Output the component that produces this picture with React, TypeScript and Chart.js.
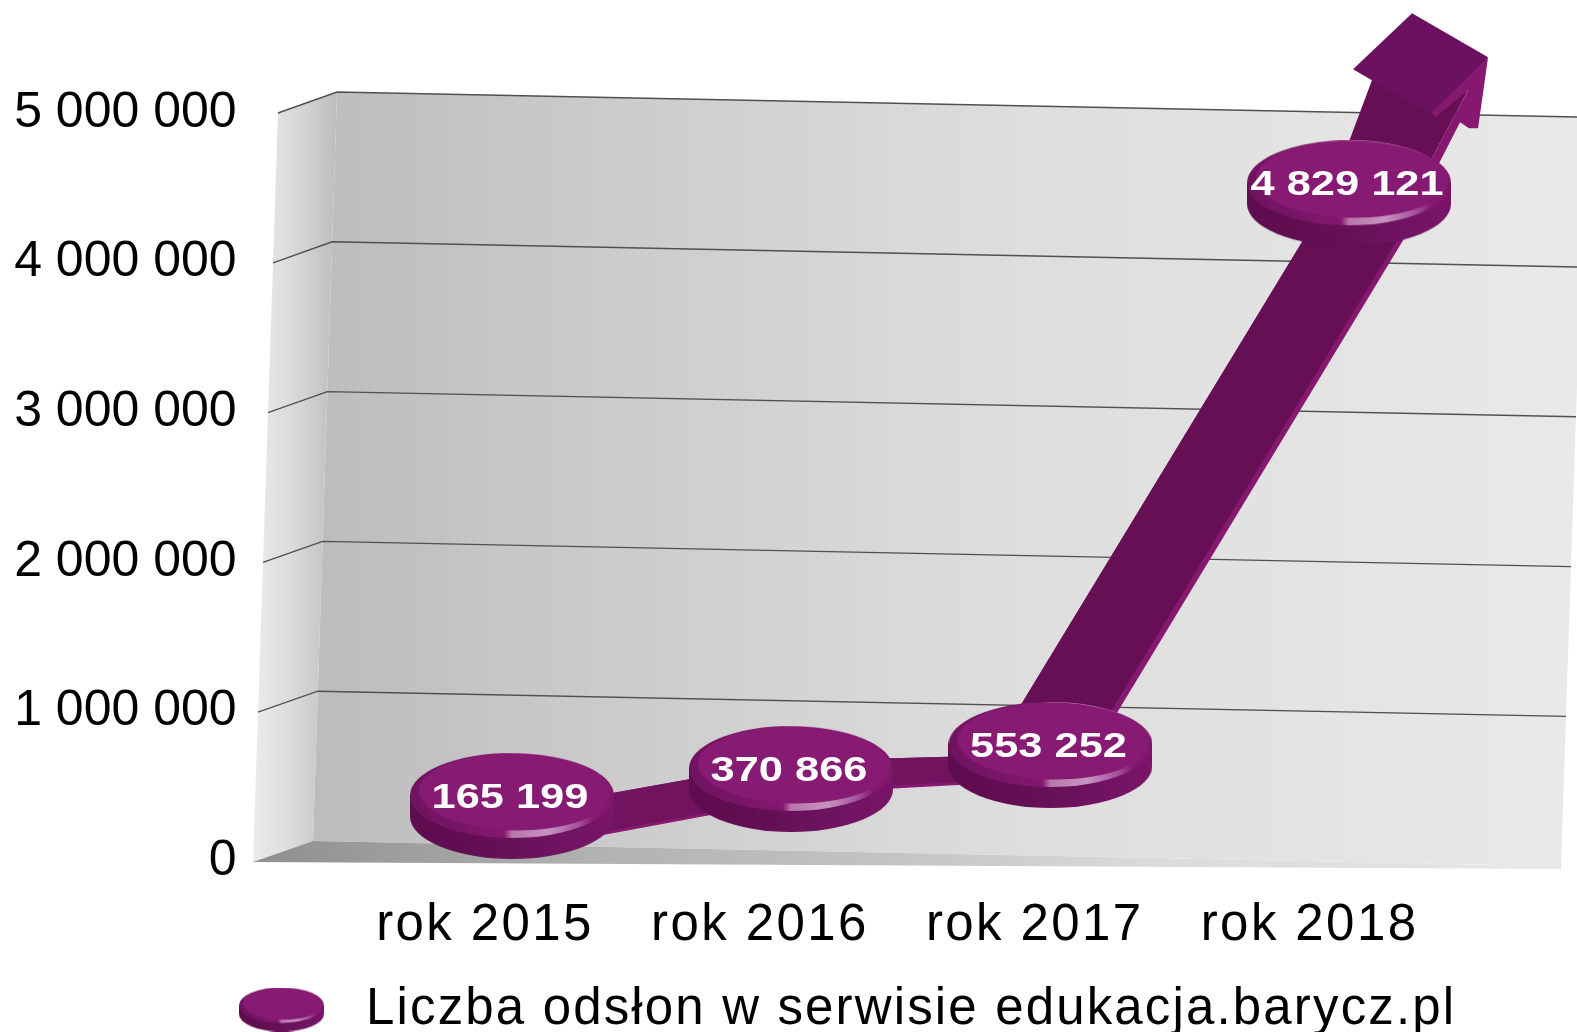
import React, { useEffect, useRef } from "react";
import { Chart, registerables } from "chart.js";

Chart.register(...registerables);

const categories = ["rok 2015", "rok 2016", "rok 2017", "rok 2018"];
const pageViews = [165199, 370866, 553252, 4829121];
// Apparent place of each point along the receding floor (in years).
const apparentYear = [2015, 2016, 2016.93, 2018];
const seriesName = "Liczba odsłon w serwisie edukacja.barycz.pl";
const axisMax = 5000000;
const axisStep = 1000000;

const FONT = "'Liberation Sans', Arial, sans-serif";
const fmt = (v: number) => String(v).replace(/\B(?=(\d{3})+(?!\d))/g, " ");

function makeDisc(w: number): HTMLCanvasElement {
  const s = w / 204;
  const h = Math.round(106 * s);
  const c = document.createElement("canvas");
  c.width = w;
  c.height = h;
  const g = c.getContext("2d")!;
  const rx = w / 2;
  const ry = 42.5 * s;
  const t = 21 * s;
  const side = g.createLinearGradient(0, 0, w, 0);
  side.addColorStop(0, "#5e0d4f");
  side.addColorStop(0.35, "#630f53");
  side.addColorStop(0.7, "#6e1360");
  side.addColorStop(1, "#7a1569");
  g.fillStyle = side;
  g.beginPath();
  g.ellipse(rx, ry + t, rx, ry, 0, 0, Math.PI * 2);
  g.fill();
  g.fillRect(0, ry, w, t);
  const rim = g.createLinearGradient(0, 0, w, 0);
  rim.addColorStop(0, "#6f1360");
  rim.addColorStop(0.3, "#7b1668");
  rim.addColorStop(0.46, "#85186f");
  rim.addColorStop(0.5, "#b877ab");
  rim.addColorStop(0.68, "#c894c0");
  rim.addColorStop(0.83, "#a2509a");
  rim.addColorStop(0.9, "#87196f");
  rim.addColorStop(1, "#7e1668");
  g.fillStyle = rim;
  g.beginPath();
  g.ellipse(rx, ry, rx, ry, 0, 0, Math.PI * 2);
  g.fill();
  g.fillStyle = "#871a72";
  g.beginPath();
  g.ellipse(rx + 3 * s, ry - 3.5 * s, rx - 6 * s, ry - 4 * s, 0.015, 0, Math.PI * 2);
  g.fill();
  return c;
}

const poly = (ctx: CanvasRenderingContext2D, color: string | CanvasGradient, pts: number[][]) => {
  ctx.fillStyle = color;
  ctx.beginPath();
  pts.forEach(([x, y], i) => (i ? ctx.lineTo(x, y) : ctx.moveTo(x, y)));
  ctx.closePath();
  ctx.fill();
};

const linearStops = (ctx: CanvasRenderingContext2D, x0: number, x1: number, stops: [number, string][]) => {
  const g = ctx.createLinearGradient(x0, 0, x1, 0);
  stops.forEach(([x, col]) => g.addColorStop((x - x0) / (x1 - x0), col));
  return g;
};

const wallPlugin = {
  id: "wall3d",
  beforeDraw(chart: any) {
    const { ctx } = chart;
    const y = chart.scales.y;
    // one-time wrapping: the lower texts of the reference are horizontally wider
    if (!chart.$wrapped) {
      chart.$wrapped = true;
      const x = chart.scales.x;
      const drawLabels = x.drawLabels.bind(x);
      x.drawLabels = (a: any) => {
        ctx.save();
        ctx.letterSpacing = "2.4px";
        drawLabels(a);
        ctx.restore();
      };
      const legend = chart.legend;
      const drawLegend = legend.draw.bind(legend);
      legend.draw = (a: any) => {
        ctx.save();
        ctx.translate(222.5 - legend.left, 13);
        ctx.letterSpacing = "2.15px";
        drawLegend(a);
        ctx.restore();
      };
    }
    const slope = 0.0202;
    const at = (v: number) => {
      const t = v / axisMax;
      const py = y.getPixelForValue(v);
      const back = { x: 313 + 24 * t, y: py - 20 - t };
      const rx = 1561 + 25 * t;
      return {
        front: { x: 253 + 25 * t, y: py + 1 - t },
        back,
        right: { x: rx, y: back.y + slope * (rx - back.x) },
      };
    };
    const lo = at(0);
    const hi = at(axisMax);
    ctx.save();
    poly(
      ctx,
      linearStops(ctx, 313, 1586, [
        [313, "#bcbcbc"],
        [600, "#cbcbcb"],
        [1000, "#dddddd"],
        [1586, "#e9e9e9"],
      ]),
      [[hi.back.x, hi.back.y], [hi.right.x, hi.right.y], [lo.right.x, lo.right.y], [lo.back.x, lo.back.y]]
    );
    poly(
      ctx,
      linearStops(ctx, 253, 337, [
        [253, "#ebebeb"],
        [290, "#dcdcdc"],
        [337, "#bdbdbd"],
      ]),
      [[hi.front.x, hi.front.y], [hi.back.x, hi.back.y], [lo.back.x, lo.back.y], [lo.front.x, lo.front.y]]
    );
    poly(
      ctx,
      linearStops(ctx, 253, 1561, [
        [253, "#8f8f8f"],
        [600, "#b2b2b2"],
        [900, "#c4c4c4"],
        [1150, "#dadada"],
        [1561, "#e8e8e8"],
      ]),
      [[lo.front.x, lo.front.y], [lo.back.x, lo.back.y], [lo.right.x, lo.right.y], [1561, 869]]
    );
    ctx.strokeStyle = "#505050";
    ctx.lineWidth = 1.4;
    y.ticks.forEach((tk: any) => {
      if (tk.value === 0) return;
      const a = at(tk.value);
      ctx.beginPath();
      ctx.moveTo(a.front.x, a.front.y);
      ctx.lineTo(a.back.x, a.back.y);
      ctx.lineTo(a.right.x, a.right.y);
      ctx.stroke();
    });
    ctx.restore();
  },
  beforeDatasetsDraw(chart: any) {
    const { ctx } = chart;
    const [p0, p1, p2, p3] = chart.getDatasetMeta(0).data;
    const rel = (p: any, dx: number, dy: number) => [p.x + dx, p.y + dy];
    const body = "#660f55";
    const lowBody = "#72135f";
    const edge = "#86186f";
    ctx.save();
    poly(ctx, edge, [rel(p0, 0, 5), rel(p1, 0, -18), rel(p1, 0, 21), rel(p0, 0, 46)]);
    poly(ctx, lowBody, [rel(p0, 0, 5), rel(p1, 0, -18), rel(p1, 0, 18), rel(p0, 0, 43)]);
    poly(ctx, edge, [rel(p1, 0, -18), rel(p2, 0, -1), rel(p2, 0, 25), rel(p1, 0, 15)]);
    poly(ctx, lowBody, [rel(p1, 0, -18), rel(p2, 0, -1), rel(p2, 0, 22), rel(p1, 0, 12)]);
    // rising limb, below the last disc
    poly(ctx, edge, [rel(p2, -57, -5), rel(p3, -29, 19), rel(p3, 71, 19), rel(p2, 44, -5)]);
    poly(ctx, body, [rel(p2, -57, -5), rel(p3, -29, 19), rel(p3, 65, 19), rel(p2, 37, -5)]);
    // limb above the last disc
    poly(ctx, body, [rel(p3, -19, -1), rel(p3, 24, -116), rel(p3, 86, -80), rel(p3, 119, -103), rel(p3, 79, -28), rel(p3, 60, -1)]);
    // arrow head top face
    poly(ctx, "#6c1160", [rel(p3, 63, -180), rel(p3, 139, -136), rel(p3, 86, -76), rel(p3, 4, -124)]);
    // light fin, bar and side strip of the arrow
    poly(ctx, edge, [
      rel(p3, 139, -136),
      rel(p3, 129, -65),
      rel(p3, 120, -65),
      rel(p3, 111, -71),
      rel(p3, 89, -28),
      rel(p3, 79, -28),
      rel(p3, 119, -103),
      rel(p3, 86, -76),
      rel(p3, 83, -81),
    ]);
    ctx.restore();
  },
  afterDatasetsDraw(chart: any) {
    const { ctx } = chart;
    const meta = chart.getDatasetMeta(0);
    ctx.save();
    ctx.fillStyle = "#ffffff";
    ctx.textAlign = "center";
    ctx.textBaseline = "middle";
    ctx.font = `bold 35px ${FONT}`;
    meta.data.forEach((pt: any, i: number) => {
      ctx.save();
      ctx.translate(pt.x - 2, pt.y - 8);
      ctx.scale(1.24, 1);
      ctx.fillText(fmt(pageViews[i]), 0, 0);
      ctx.restore();
    });
    ctx.restore();
  },
};

export default function App() {
  const ref = useRef<HTMLCanvasElement | null>(null);
  useEffect(() => {
    document.body.style.margin = "0";
    const disc = makeDisc(204);
    const legendDisc = makeDisc(85);
    const chart = new Chart(ref.current!, {
      type: "line",
      data: {
        labels: categories,
        datasets: [
          {
            label: seriesName,
            data: pageViews.map((v, i) => ({ x: apparentYear[i], y: v })),
            xAxisID: "xPlot",
            yAxisID: "yPlot",
            showLine: false,
            pointStyle: disc as any,
            pointRadius: 20,
            clip: false as any,
          },
        ],
      },
      plugins: [wallPlugin as any],
      options: {
        responsive: false,
        animation: false,
        devicePixelRatio: 1,
        layout: { padding: { top: 113, right: 130, left: 0, bottom: 0 } },
        plugins: {
          tooltip: { enabled: false },
          legend: {
            display: true,
            position: "bottom",
            align: "start",
            labels: {
              color: "#000000",
              font: { family: FONT, size: 51 },
              usePointStyle: true,
              pointStyleWidth: 118,
              padding: 0,
              generateLabels: (c: any) => [
                {
                  text: c.data.datasets[0].label,
                  pointStyle: legendDisc,
                  fontColor: "#000000",
                  datasetIndex: 0,
                  lineWidth: 0,
                  strokeStyle: "transparent",
                  fillStyle: "transparent",
                } as any,
              ],
            },
          },
        },
        scales: {
          x: {
            type: "category",
            labels: categories,
            offset: true,
            grid: { display: false, drawTicks: false },
            border: { display: false },
            ticks: {
              color: "#000000",
              font: { family: FONT, size: 51 },
              padding: 34,
              maxRotation: 0,
              autoSkip: false,
            },
            afterFit: (s: any) => {
              s.height = 110;
            },
          },
          y: {
            type: "linear",
            min: 0,
            max: axisMax,
            grid: { display: false, drawTicks: false },
            border: { display: false },
            ticks: {
              stepSize: axisStep,
              color: "#000000",
              font: { family: FONT, size: 50 },
              padding: 111,
              callback: (v: any) => fmt(Number(v)),
            },
            afterFit: (s: any) => {
              s.width = 347.6;
              s.paddingTop = 0;
              s.paddingBottom = 0;
            },
          },
          xPlot: { type: "linear", axis: "x", display: false, min: 2014.411, max: 2018.351 } as any,
          yPlot: { type: "linear", axis: "y", display: false, min: -254100, max: 5440500 } as any,
        },
      },
    });
    return () => chart.destroy();
  }, []);
  return <canvas ref={ref} width={1577} height={1032} style={{ display: "block" }} />;
}
